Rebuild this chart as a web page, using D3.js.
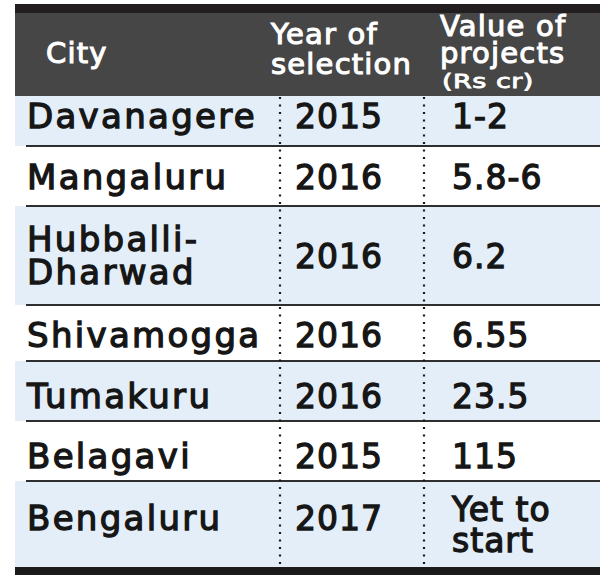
<!DOCTYPE html>
<html><head><meta charset="utf-8">
<script src="https://cdn.jsdelivr.net/npm/d3@7"></script>
<style>html,body{margin:0;padding:0;background:#fff;}svg{display:block;}</style>
</head><body>
<script>
// ---- data ----
const headers = [["City"], ["Year of", "selection"], ["Value of", "projects", "(Rs cr)"]];
const cities = ["Davanagere", "Mangaluru", "Hubballi-|Dharwad", "Shivamogga", "Tumakuru", "Belagavi", "Bengaluru"];
const years = ["2015", "2016", "2016", "2016", "2016", "2015", "2017"];
const values = ["1-2", "5.8-6", "6.2", "6.55", "23.5", "115", "Yet to|start"];

// ---- layout ----
const W = 600, H = 575;
const rowEdges = [96, 146, 206, 305, 361, 421, 481, 567];
const rowBase = [128, 189, 268, 347, 408, 468, 530];
const font = "'DejaVu Sans', Verdana, sans-serif";
const ink = "#161616";

const svg = d3.select("body").append("svg").attr("width", W).attr("height", H);

const idx = d3.range(cities.length);
const yTop = d3.scaleOrdinal().domain(idx).range(rowEdges.slice(0, -1));
const yBot = d3.scaleOrdinal().domain(idx).range(rowEdges.slice(1));
const yBase = d3.scaleOrdinal().domain(idx).range(rowBase);
const xCol = d3.scaleOrdinal().domain([0, 1, 2]).range([27, 339, 452]);

// header
svg.append("rect").attr("x", 15).attr("y", 4).attr("width", W - 15).attr("height", 9).attr("fill", "#221e1f");
svg.append("rect").attr("x", 15).attr("y", 13).attr("width", W - 15).attr("height", 83).attr("fill", "#464646");

// row bands
svg.selectAll("rect.band").data(idx).join("rect").attr("class", "band")
  .attr("x", 15).attr("y", d => yTop(d)).attr("width", W - 15)
  .attr("height", d => yBot(d) - yTop(d))
  .attr("fill", d => d % 2 === 0 ? "#e4eef8" : "#ffffff");

// row separators
svg.selectAll("line.sep").data(idx.slice(0, -1)).join("line").attr("class", "sep")
  .attr("x1", 26).attr("x2", W).attr("y1", d => yBot(d)).attr("y2", d => yBot(d))
  .attr("stroke", "#2e2e2e").attr("stroke-width", 2);

// bottom thick rule
svg.append("rect").attr("x", 15).attr("y", 567).attr("width", W - 15).attr("height", 8).attr("fill", "#1b1b1b");

// dotted column dividers
[280, 424].forEach(x => {
  svg.append("line").attr("x1", x).attr("x2", x).attr("y1", 97).attr("y2", 567)
    .attr("stroke", "#1a1a1a").attr("stroke-width", 2.2).attr("stroke-dasharray", "2,5.5");
});

// header text
const hdr = svg.append("g").attr("fill", "#fff").attr("stroke", "#fff").attr("stroke-width", 1.1)
  .attr("font-family", font).attr("font-size", 29).attr("letter-spacing", 1.2);
hdr.append("text").attr("x", 46).attr("y", 63).text(headers[0][0]);
hdr.append("text").attr("x", 271).attr("y", 44).text(headers[1][0]);
hdr.append("text").attr("x", 271).attr("y", 74).text(headers[1][1]);
hdr.append("text").attr("x", 440).attr("y", 36).text(headers[2][0]);
hdr.append("text").attr("x", 440).attr("y", 63).text(headers[2][1]);
hdr.append("text").attr("transform", "translate(442,88) scale(1,0.72)").attr("font-size", 27).attr("letter-spacing", 0.5).text(headers[2][2]);

// body cells
function cell(col, i, str, size, anchor, lh, ls) {
  const lines = str.split("|");
  const t = svg.append("text").attr("font-family", font)
    .attr("font-size", size).attr("fill", ink).attr("stroke", ink).attr("stroke-width", 1.3)
    .attr("letter-spacing", ls).attr("text-anchor", anchor);
  if (lines.length === 1) {
    t.append("tspan").attr("x", xCol(col)).attr("y", yBase(i)).text(lines[0]);
  } else {
    const c = (yTop(i) + yBot(i)) / 2;
    const first = c - (lines.length - 1) * lh / 2 + 12;
    lines.forEach((l, k) => t.append("tspan").attr("x", xCol(col)).attr("y", first + k * lh).text(l));
  }
}
idx.forEach(i => {
  cell(0, i, cities[i], 34, "start", 33, 2.3);
  cell(1, i, years[i], 33, "middle", 31, 1);
  cell(2, i, values[i], 33, "start", 31, 1);
});
</script>
</body></html>
